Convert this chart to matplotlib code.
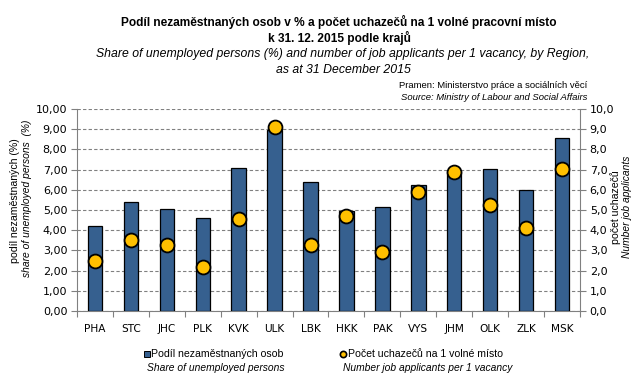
import matplotlib
matplotlib.use("Agg")
import matplotlib.pyplot as plt
from matplotlib.ticker import FuncFormatter, MultipleLocator
import numpy as np

plt.rcParams['font.family'] = ['Liberation Sans', 'DejaVu Sans']

regions = ["PHA", "STC", "JHC", "PLK", "KVK", "ULK", "LBK",
           "HKK", "PAK", "VYS", "JHM", "OLK", "ZLK", "MSK"]
share_unemployed = [4.20, 5.39, 5.04, 4.60, 7.07, 8.94, 6.38,
                    4.96, 5.14, 6.25, 6.95, 7.03, 6.00, 8.56]
applicants_per_vacancy = [2.49, 3.52, 3.27, 2.20, 4.53, 9.09, 3.27,
                          4.71, 2.93, 5.90, 6.89, 5.26, 4.13, 7.04]

BAR_COLOR = "#36608F"
DOT_COLOR = "#FFC000"
AXIS_COLOR = "#808080"

fig = plt.figure(figsize=(6.41, 3.88), dpi=100)
ax = fig.add_axes([77 / 641, 77 / 388, 503 / 641, 202 / 388])
ax2 = ax.twinx()

x = np.arange(len(regions))
ax.bar(x, share_unemployed, width=0.4, color=BAR_COLOR, edgecolor="black",
       linewidth=0.9, zorder=3)
ax2.plot(x, applicants_per_vacancy, linestyle="none", marker="o",
         markersize=10, markerfacecolor=DOT_COLOR, markeredgecolor="black",
         markeredgewidth=1.3, zorder=4)

for a, fmt in ((ax, "{:.2f}"), (ax2, "{:.1f}")):
    a.set_ylim(0, 10)
    a.set_xlim(-0.5, len(regions) - 0.5)
    a.yaxis.set_major_locator(MultipleLocator(1))
    a.yaxis.set_major_formatter(FuncFormatter(
        lambda v, p, f=fmt: f.format(v).replace(".", ",")))
    a.tick_params(axis="y", labelsize=8, length=4, color=AXIS_COLOR,
                  width=0.8, pad=3)
    for lbl in a.get_yticklabels():
        lbl.set_family("DejaVu Sans")
    for s in a.spines.values():
        s.set_visible(False)

ax.spines["left"].set_visible(True)
ax.spines["left"].set_color(AXIS_COLOR)
ax.spines["bottom"].set_visible(True)
ax.spines["bottom"].set_color(AXIS_COLOR)
ax2.spines["right"].set_visible(True)
ax2.spines["right"].set_color(AXIS_COLOR)

ax.set_xticks(x)
ax.set_xticklabels(regions, family="DejaVu Sans")
ax.set_xticks(np.arange(-0.5, len(regions)), minor=True)
ax.tick_params(axis="x", which="major", length=0, labelsize=7.6, pad=9)
ax.tick_params(axis="x", which="minor", length=4, color=AXIS_COLOR, width=0.8)

ax.grid(axis="y", color="#808080", linestyle=(0, (3, 2)), linewidth=0.8,
        zorder=0)
ax.set_axisbelow(True)
ax.set_zorder(ax2.get_zorder() - 1)
ax.patch.set_visible(True)
ax2.patch.set_visible(False)

# axis titles
fig.text(15 / 641, 1 - 201 / 388, "podíl nezaměstnaných (%)", rotation=90,
         ha="center", va="center", fontsize=7.6)
fig.text(27 / 641, 1 - 198 / 388, "share of unemployed persons  (%)",
         rotation=90, ha="center", va="center", fontsize=7.4, style="italic")
fig.text(616 / 641, 1 - 207 / 388, "počet uchazečů", rotation=90,
         ha="center", va="center", fontsize=7.6)
fig.text(627 / 641, 1 - 207 / 388, "Number job applicants", rotation=90,
         ha="center", va="center", fontsize=7.4, style="italic")

# titles
fig.text(339 / 641, 1 - 22 / 388, "Podíl nezaměstnaných osob v % a počet uchazečů na 1 volné pracovní místo",
         ha="center", va="center", fontsize=8.6, fontweight="bold")
fig.text(339 / 641, 1 - 38 / 388, "k 31. 12. 2015 podle krajů",
         ha="center", va="center", fontsize=8.6, fontweight="bold")
fig.text(343 / 641, 1 - 54 / 388,
         "Share of unemployed persons (%) and number of job applicants per 1 vacancy, by Region,",
         ha="center", va="center", fontsize=8.8, style="italic")
fig.text(343 / 641, 1 - 70 / 388, "as at 31 December 2015",
         ha="center", va="center", fontsize=8.8, style="italic")

fig.text(587 / 641, 1 - 86 / 388, "Pramen: Ministerstvo práce a sociálních věcí",
         ha="right", va="center", fontsize=6.8)
fig.text(587 / 641, 1 - 98 / 388, "Source: Ministry of Labour and Social Affairs",
         ha="right", va="center", fontsize=6.8, style="italic")

# legend
fig.lines.append(plt.Line2D([147 / 641], [1 - 354 / 388], marker="s",
                            markersize=5, markerfacecolor=BAR_COLOR,
                            markeredgecolor="black", markeredgewidth=0.7,
                            linestyle="none", transform=fig.transFigure))
fig.text(151 / 641, 1 - 354 / 388, "Podíl nezaměstnaných osob",
         ha="left", va="center", fontsize=7.6)
fig.text(147 / 641, 1 - 368 / 388, "Share of unemployed persons",
         ha="left", va="center", fontsize=7.4, style="italic")
fig.lines.append(plt.Line2D([343 / 641], [1 - 354 / 388], marker="o",
                            markersize=4.5, markerfacecolor=DOT_COLOR,
                            markeredgecolor="black", markeredgewidth=1.2,
                            linestyle="none", transform=fig.transFigure))
fig.text(348 / 641, 1 - 354 / 388, "Počet uchazečů na 1 volné místo",
         ha="left", va="center", fontsize=7.6)
fig.text(343 / 641, 1 - 368 / 388, "Number job applicants per 1 vacancy",
         ha="left", va="center", fontsize=7.4, style="italic")

plt.savefig("out.png", dpi=100)
